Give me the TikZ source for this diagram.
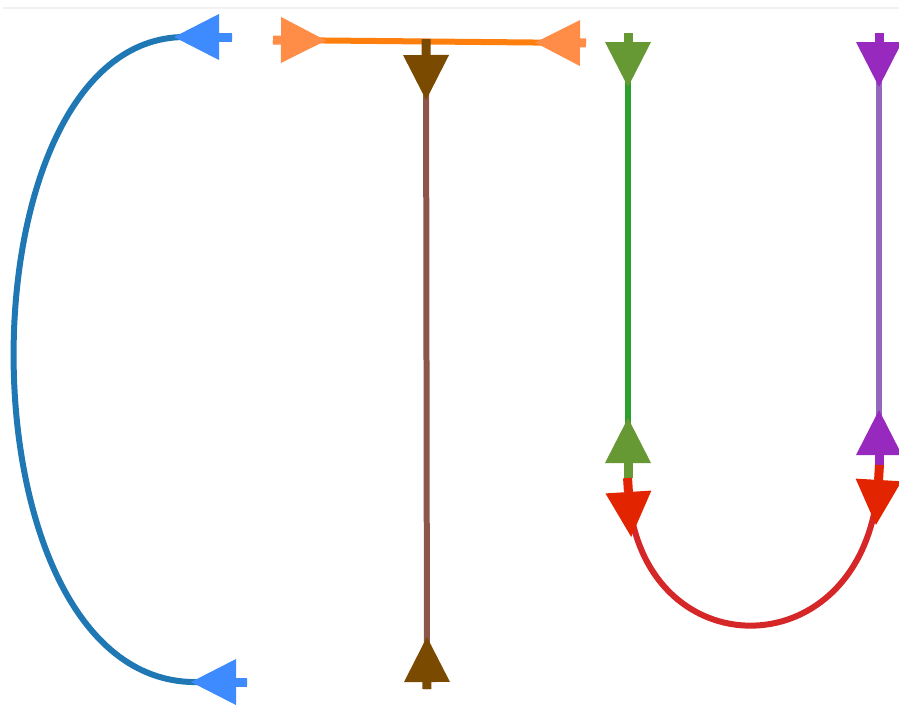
\documentclass[tikz,border=0pt]{standalone}
\usetikzlibrary{decorations.markings}

\definecolor{blueLn}{HTML}{1F77B4}
\definecolor{blueMk}{HTML}{3D8BFF}
\definecolor{orangeLn}{HTML}{FF7F0E}
\definecolor{orangeMk}{HTML}{FF8C47}
\definecolor{brownLn}{HTML}{8C564B}
\definecolor{brownMk}{HTML}{7A4A00}
\definecolor{greenLn}{HTML}{2CA02C}
\definecolor{greenMk}{HTML}{669933}
\definecolor{purpleLn}{HTML}{9467BD}
\definecolor{purpleMk}{HTML}{9829BE}
\definecolor{redLn}{HTML}{D62728}
\definecolor{redMk}{HTML}{E32400}

\tikzset{
  link/.style={line width=0.12cm, line cap=butt},
  % marker colour, stub length at start, stub length at end (px)
  tipped/.style n args={3}{
    postaction={decorate, decoration={markings,
      mark=at position #2*0.02cm with {\fill[#1] (0,-23) -- (45,0) -- (0,23) -- cycle;
        \draw[#1, line width=0.18cm] (0,0) -- (-#2,0);},
      mark=at position -#3*0.02cm with {\fill[#1] (0,-23) -- (-45,0) -- (0,23) -- cycle;
        \draw[#1, line width=0.18cm] (0,0) -- (#3,0);}}}},
}

\begin{document}
\begin{tikzpicture}[x=0.02cm,y=-0.02cm]
\useasboundingbox (0,0) rectangle (899,704);
\draw[black!5, line width=0.03cm] (3,8) -- (899,8);

% end points
\coordinate (c1) at (232,37);
\coordinate (c2) at (247,682);
\coordinate (t1) at (273,40);
\coordinate (t2) at (586,43);
\coordinate (t3) at (426,39);
\coordinate (t4) at (427,689);
\coordinate (u1) at (628,33);
\coordinate (u2) at (628,478);
\coordinate (u3) at (879,33);
\coordinate (u4) at (879,465);

% C
\draw[link, blueLn, tipped={blueMk}{13}{11}] (c1) -- (185,37) .. controls (-46,37) and (-46,690) .. (200,682) -- (c2);
% T
\draw[link, orangeLn, tipped={orangeMk}{8}{6}] (t1) -- (t2);
\draw[link, brownLn, tipped={brownMk}{16}{7}] (t3) -- (t4);
% U
\draw[link, greenLn, tipped={greenMk}{9}{15}] (u1) -- (u2);
\draw[link, purpleLn, tipped={purpleMk}{9}{10}] (u3) -- (u4);
\draw[link, redLn, tipped={redMk}{14}{15}] (u2) .. controls (628,677) and (879,677) .. (u4);
\end{tikzpicture}
\end{document}
